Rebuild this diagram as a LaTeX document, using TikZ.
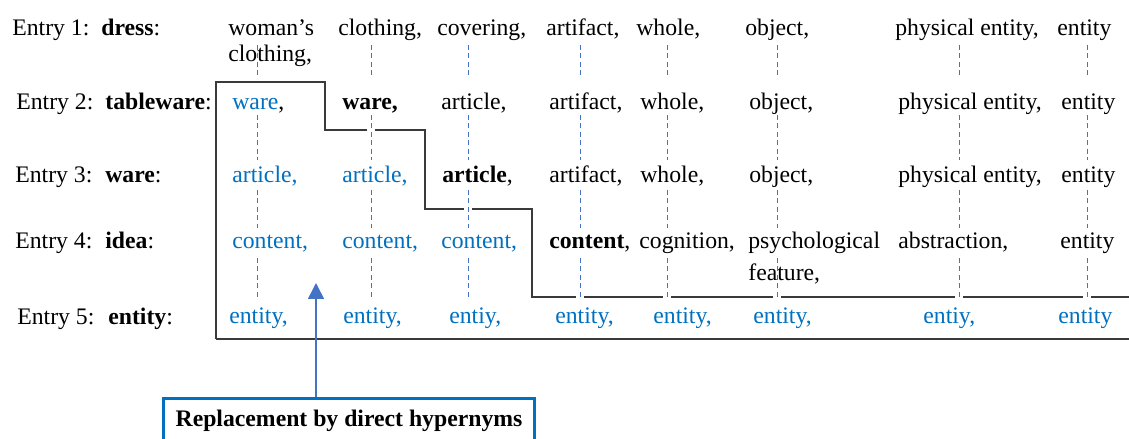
\documentclass[tikz,border=0pt]{standalone}
\usepackage{fontspec}
\setmainfont{Liberation Serif}
\usepackage{xcolor}
\usepackage{tikz}
\usetikzlibrary{arrows.meta}
\definecolor{hypblue}{HTML}{0070C0}
\definecolor{chainblue}{HTML}{4472C4}
\definecolor{stepgray}{HTML}{3A3A3A}

\begin{document}
\begin{tikzpicture}[
    x=0.02cm, y=-0.02cm,
    every node/.style={font=\fontsize{13.5}{16}\selectfont, inner sep=0pt, anchor=base west},
    hyp/.style={text=hypblue},
    chain/.style={
        draw=chainblue,
        line width=0.5pt,
        dash pattern=on 2.8pt off 2pt
    },
    border/.style={
        draw=stepgray,
        line width=0.8pt
    },
    myarrow/.style={
        -{Triangle[length=9pt,width=9pt]},
        draw=chainblue,
        fill=chainblue,
        line width=0.9pt
    },
    framebox/.style={
        draw=hypblue,
        line width=1.8pt,
        minimum width=7.42cm,
        minimum height=1.4cm,
        anchor=north west
    },
    caption/.style={
        font=\fontsize{13.5}{16}\selectfont\bfseries,
        anchor=base
    }
]
\useasboundingbox (0,0) rectangle (1129,439);

% Entry labels
\node (e1) at (12,36)  {Entry 1:};
\node (k1) at (101,36) {\textbf{dress}:};
\node (e2) at (16,110) {Entry 2:};
\node (k2) at (105,110) {\textbf{tableware}:};
\node (e3) at (15,182) {Entry 3:};
\node (k3) at (105,182) {\textbf{ware}:};
\node (e4) at (15,248) {Entry 4:};
\node (k4) at (105,248) {\textbf{idea}:};
\node (e5) at (17,324) {Entry 5:};
\node (k5) at (108,324) {\textbf{entity}:};

% Row 1 - dress
\node (r1c1)  at (228,36) {woman's};
\node (r1c1b) at (228,62) {clothing,};
\node (r1c2)  at (338,36) {clothing,};
\node (r1c3)  at (437,36) {covering,};
\node (r1c4)  at (546,36) {artifact,};
\node (r1c5)  at (636,36) {whole,};
\node (r1c6)  at (745,36) {object,};
\node (r1c7)  at (895,36) {physical entity,};
\node (r1c8)  at (1057,36) {entity};

% Row 2 - tableware
\node (r2c1) at (232,110) {\textcolor{hypblue}{ware},};
\node (r2c2) at (342,110) {\textbf{ware,}};
\node (r2c3) at (441,110) {article,};
\node (r2c4) at (549,110) {artifact,};
\node (r2c5) at (640,110) {whole,};
\node (r2c6) at (749,110) {object,};
\node (r2c7) at (898,110) {physical entity,};
\node (r2c8) at (1061,110) {entity};

% Row 3 - ware
\node[hyp] (r3c1) at (232,182) {article,};
\node[hyp] (r3c2) at (342,182) {article,};
\node (r3c3) at (442,182) {\textbf{article},};
\node (r3c4) at (549,182) {artifact,};
\node (r3c5) at (640,182) {whole,};
\node (r3c6) at (749,182) {object,};
\node (r3c7) at (898,182) {physical entity,};
\node (r3c8) at (1061,182) {entity};

% Row 4 - idea
\node[hyp] (r4c1) at (232,248) {content,};
\node[hyp] (r4c2) at (342,248) {content,};
\node[hyp] (r4c3) at (441,248) {content,};
\node (r4c4)  at (549,248) {\textbf{content},};
\node (r4c5)  at (639,248) {cognition,};
\node (r4c6)  at (748,248) {psychological};
\node (r4c6b) at (748,280) {feature,};
\node (r4c7)  at (898,248) {abstraction,};
\node (r4c8)  at (1060,248) {entity};

% Row 5 - entity
\node[hyp] (r5c1) at (229,323) {entity,};
\node[hyp] (r5c2) at (343,323) {entity,};
\node[hyp] (r5c3) at (449,323) {entiy,};
\node[hyp] (r5c4) at (555,323) {entity,};
\node[hyp] (r5c5) at (653,323) {entity,};
\node[hyp] (r5c6) at (753,323) {entity,};
\node[hyp] (r5c7) at (923,323) {entiy,};
\node[hyp] (r5c8) at (1058,323) {entity};

% Replaced region
\draw[border] (216,339) -- (216,82) -- (325,82) -- (325,130) -- (425,130)
    -- (425,209) -- (532,209) -- (532,297) -- (1135,297);
\draw[border] (216,339) -- (1135,339);
% small breaks where the chains cross
\foreach \cx/\cy in {371/130,468/209,580/297,667/297,777/297,959/297,1087/297}
    \fill[white] (\cx-4,\cy-2) rectangle (\cx+4,\cy+2);

% Hypernym chains
\foreach \cx in {257,371,468,580,667,777,959,1087}
    \foreach \ya/\yb in {45/77,115/160,190/228,258/300}
        \draw[chain] (\cx,\ya) -- (\cx,\yb);

% Caption box
\node[framebox] (repl) at (162,397) {};
\node[caption] (repltext) at (349,426) {Replacement by direct hypernyms};
\coordinate (tip) at (316,283);
\draw[myarrow] (repl.north -| tip) -- (tip);

\end{tikzpicture}
\end{document}
